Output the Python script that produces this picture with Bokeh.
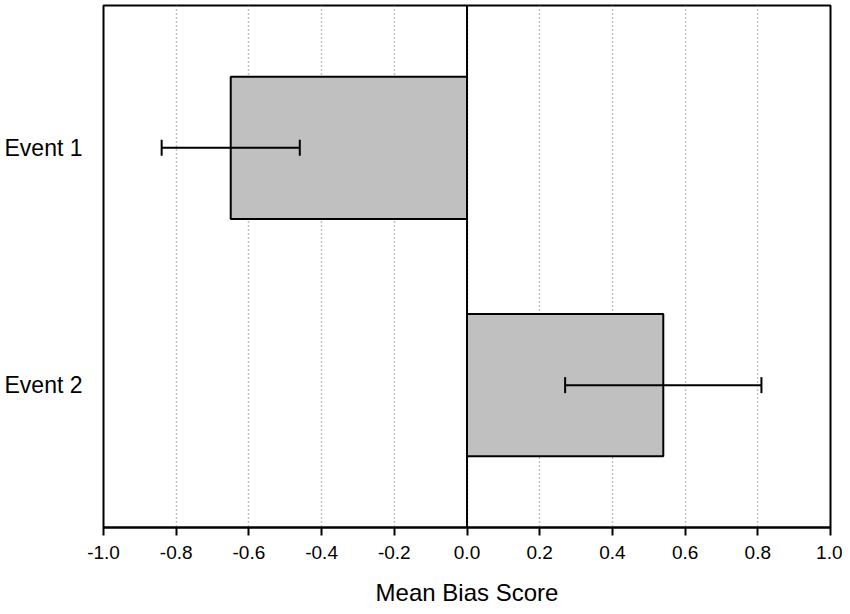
from bokeh.plotting import figure
from bokeh.models import Range1d, FixedTicker, PrintfTickFormatter, Span, Whisker, ColumnDataSource, TeeHead
from bokeh.embed import file_html
from bokeh.resources import INLINE

categories = ["Event 1", "Event 2"]
means = [-0.65, 0.54]
errors = [0.19, 0.27]
x_ticks = [-1.0, -0.8, -0.6, -0.4, -0.2, 0.0, 0.2, 0.4, 0.6, 0.8, 1.0]

ypos = [i + 1 for i in range(len(categories))]
src = ColumnDataSource(dict(
    y=ypos, m=means, z=[0.0] * len(means),
    lo=[m - e for m, e in zip(means, errors)],
    hi=[m + e for m, e in zip(means, errors)],
))

FONT = "Liberation Sans"
p = figure(width=842, height=610, output_backend="svg", toolbar_location=None,
           x_range=Range1d(-1.0, 1.0), y_range=Range1d(2.6, 0.4),
           min_border_left=103, min_border_right=12, min_border_top=5, min_border_bottom=83)
p.background_fill_color = "white"
p.border_fill_color = "white"
p.outline_line_color = "black"
p.outline_line_width = 2

p.hbar(y="y", left="z", right="m", height=0.6, source=src,
       fill_color="#c0c0c0", line_color="black", line_width=2)
p.add_layout(Span(location=0, dimension="height", line_color="black", line_width=2))
w = Whisker(base="y", lower="lo", upper="hi", dimension="width", source=src,
            line_color="black", line_width=2, level="overlay",
            upper_head=TeeHead(size=16, line_width=2, line_color="black"),
            lower_head=TeeHead(size=16, line_width=2, line_color="black"))
p.add_layout(w)

p.xgrid.ticker = FixedTicker(ticks=x_ticks)
p.xgrid.grid_line_color = "#888888"
p.xgrid.grid_line_dash = "1 3"
p.xgrid.grid_line_width = 1.5
p.ygrid.grid_line_color = None

xa = p.xaxis[0]
xa.ticker = FixedTicker(ticks=x_ticks)
xa.formatter = PrintfTickFormatter(format="%.1f")
xa.axis_label = "Mean Bias Score"
xa.axis_label_text_font = FONT
xa.axis_label_text_font_size = "24px"
xa.axis_label_text_font_style = "normal"
xa.axis_label_text_color = "black"
xa.axis_label_standoff = 17
xa.major_label_text_font = FONT
xa.major_label_text_font_size = "19px"
xa.major_label_text_color = "black"
xa.major_label_standoff = 10
xa.major_tick_out = 8
xa.major_tick_in = 0
xa.major_tick_line_width = 2
xa.major_tick_line_color = "black"
xa.minor_tick_line_color = None
xa.axis_line_width = 2
xa.axis_line_color = "black"

ya = p.yaxis[0]
ya.ticker = FixedTicker(ticks=ypos)
ya.major_label_overrides = {yv: c for yv, c in zip(ypos, categories)}
ya.major_label_text_font = FONT
ya.major_label_text_font_size = "23px"
ya.major_label_text_color = "black"
ya.major_label_standoff = 15
ya.major_tick_line_color = None
ya.minor_tick_line_color = None
ya.axis_line_color = None

open("out.html", "w").write(file_html(p, INLINE))
